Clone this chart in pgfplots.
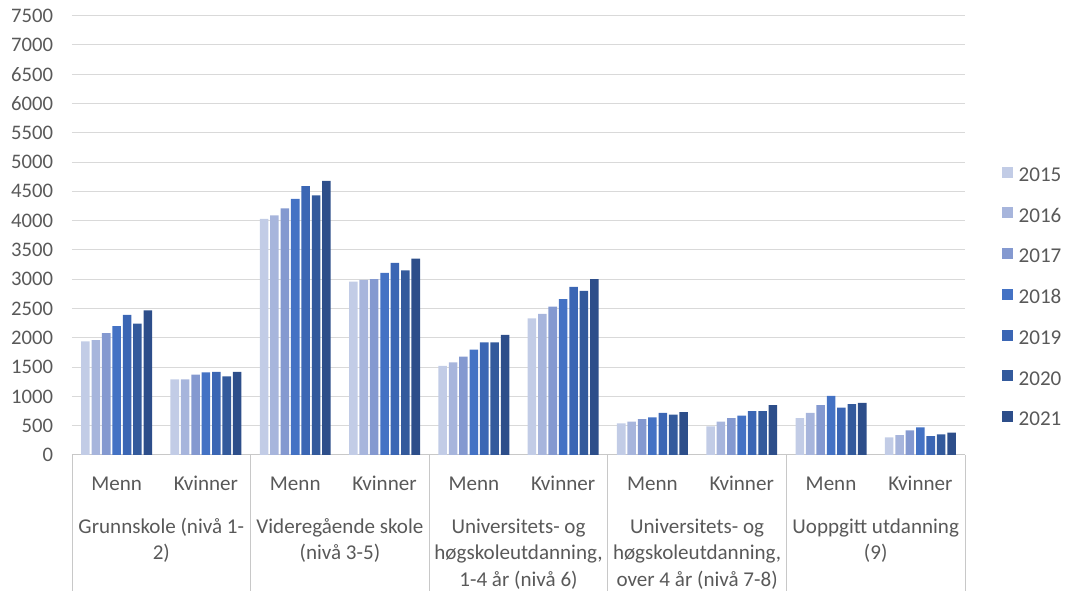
\documentclass[border=0pt]{standalone}
\usepackage{fontspec}
\setmainfont{Carlito}
\usepackage{pgfplots}
\usepackage{pgfplotstable}
\pgfplotsset{compat=1.18}

\definecolor{cA}{HTML}{C2CCE6}
\definecolor{cB}{HTML}{A7B5DC}
\definecolor{cC}{HTML}{8499D0}
\definecolor{cD}{HTML}{4472C4}
\definecolor{cE}{HTML}{3B66B4}
\definecolor{cF}{HTML}{335A9C}
\definecolor{cG}{HTML}{2D4E8A}
\definecolor{txt}{HTML}{595959}
\definecolor{gridgray}{HTML}{D9D9D9}
\definecolor{sepgray}{HTML}{C8C8C8}

% rows: Menn/Kvinner for each education level
\pgfplotstableread{
x  a    b    c    d    e    f    g
0  1940 1960 2080 2200 2390 2240 2470
1  1290 1290 1370 1410 1420 1340 1420
2  4030 4090 4210 4370 4590 4430 4680
3  2960 2990 3000 3110 3280 3150 3350
4  1520 1580 1680 1800 1920 1920 2050
5  2330 2410 2530 2660 2870 2800 3000
6  540  570  610  640  720  690  730
7  490  570  630  670  750  750  850
8  630  720  850  1010 810  870  890
9  300  340  420  470  320  350  380
}\data

\begin{document}
\begin{tikzpicture}
\path[use as bounding box] (0,0) rectangle (798.75pt,443.25pt);
\begin{axis}[
    at={(54pt,102pt)}, anchor=south west,
    scale only axis,
    width=669.75pt, height=329.6pt,
    ybar=1.4pt, bar width=6.4pt,
    xmin=-0.5, xmax=9.5,
    ymin=0, ymax=7500,
    ytick={0,500,...,7500},
    xtick={0,...,9},
    xticklabels={Menn,Kvinner,Menn,Kvinner,Menn,Kvinner,Menn,Kvinner,Menn,Kvinner},
    axis lines*=left,
    y axis line style={draw=none},
    x axis line style={draw=sepgray, line width=0.75pt},
    ymajorgrids,
    grid style={draw=gridgray, line width=0.75pt},
    major tick length=0pt,
    /pgf/number format/assume math mode=true,
    /pgf/number format/1000 sep={},
    yticklabel style={font=\fontsize{15.5}{18}\selectfont, text=txt, inner sep=0pt, anchor=east, xshift=-14pt},
    xticklabel style={font=\fontsize{15.8}{19}\selectfont, text=txt, inner sep=0pt, anchor=base, yshift=-26.8pt},
    legend style={at={(1.037,0.663)}, anchor=north west, draw=none, fill=none,
        row sep=16.4pt, column sep=4pt,
        font=\fontsize{15.8}{19}\selectfont, text=txt,
        nodes={inner sep=0pt, text height=11pt, text depth=3pt}},
    legend cell align=left,
    legend image code/.code={\fill[#1] (0pt,-1.1pt) rectangle (8.25pt,7.15pt);},
]
\addplot[fill=cA, draw=none] table[x=x, y=a] {\data};
\addplot[fill=cB, draw=none] table[x=x, y=b] {\data};
\addplot[fill=cC, draw=none] table[x=x, y=c] {\data};
\addplot[fill=cD, draw=none] table[x=x, y=d] {\data};
\addplot[fill=cE, draw=none] table[x=x, y=e] {\data};
\addplot[fill=cF, draw=none] table[x=x, y=f] {\data};
\addplot[fill=cG, draw=none] table[x=x, y=g] {\data};
\legend{2015,2016,2017,2018,2019,2020,2021}
\end{axis}
\begin{scope}[x=0.75pt, y=0.75pt]
  \foreach \sx in {72,250.6,429.2,607.8,786.4,965}
    \draw[sepgray, line width=0.75pt] (\sx,136) -- (\sx,0);
  % base anchor sits on the last line: shift by 26.67px per extra line
  \begin{scope}[every node/.style={font=\fontsize{15.8}{20}\selectfont, text=txt, align=center, anchor=base, inner sep=0pt}]
    \node at (161.3,31.0) {Grunnskole (nivå 1-\\2)};
    \node at (339.9,31.0) {Videregående skole\\(nivå 3-5)};
    \node at (518.5,4.4) {Universitets- og\\høgskoleutdanning,\\1-4 år (nivå 6)};
    \node at (697.1,4.4) {Universitets- og\\høgskoleutdanning,\\over 4 år (nivå 7-8)};
    \node at (875.7,31.0) {Uoppgitt utdanning\\(9)};
  \end{scope}
\end{scope}
\end{tikzpicture}
\end{document}
